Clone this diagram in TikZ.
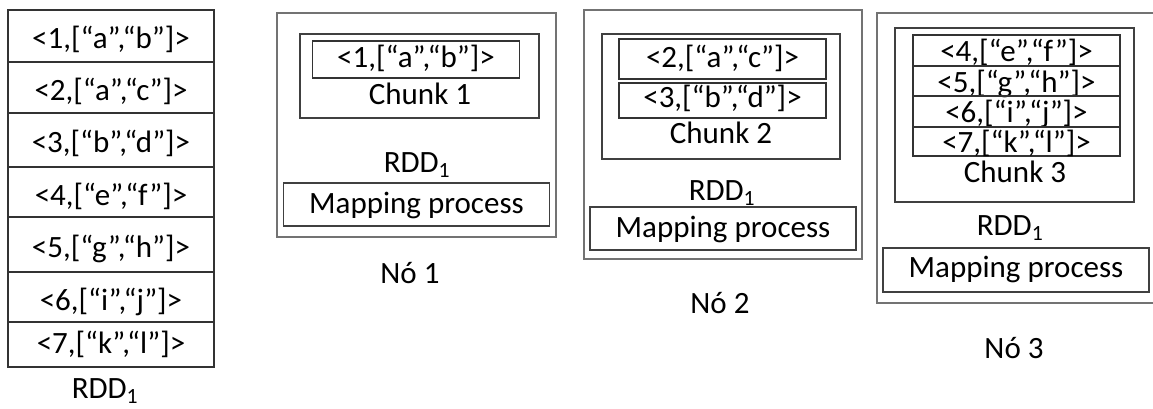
\documentclass[tikz,border=0pt]{standalone}
\usepackage{fontspec}
\setmainfont{Carlito}
\begin{document}
\begin{tikzpicture}[x=1pt,y=-1pt,
  every node/.style={font=\fontsize{31}{37}\selectfont, inner sep=0pt},
  outerbox/.style={draw=black!55, line width=1.3pt, minimum width=#1},
  chunkbox/.style={draw=black!75, line width=1.3pt, minimum width=#1},
  tablerow/.style={draw=black!80, line width=1.3pt, minimum width=206pt, minimum height=#1,
                   text height=26pt, text depth=0pt},
  entry/.style={draw=black!80, line width=1.3pt, minimum width=207pt, minimum height=#1,
                text height=17pt, text depth=0pt},
  smallentry/.style={draw=black!80, line width=1.3pt, minimum width=207pt, minimum height=#1,
                text height=23pt, text depth=0pt},
  mapbox/.style={draw=black!75, line width=1.3pt, minimum width=266pt, minimum height=43pt,
                 text height=17pt, text depth=0pt},
  caption/.style={anchor=base}]
\clip (0,0) rectangle (1153,409);

% input RDD as a column of records
\node[tablerow=52pt] (r1) at (111,36)    {<1,[“a”,“b”]>};
\node[tablerow=51pt] (r2) at (111,87.5)  {<2,[“a”,“c”]>};
\node[tablerow=54pt] (r3) at (111,140)   {<3,[“b”,“d”]>};
\node[tablerow=50pt] (r4) at (111,192)   {<4,[“e”,“f”]>};
\node[tablerow=55pt] (r5) at (111,244.5) {<5,[“g”,“h”]>};
\node[tablerow=50pt] (r6) at (111,297)   {<6,[“i”,“j”]>};
\node[tablerow=45pt, text height=18pt] (r7) at (111,344.5) {<7,[“k”,“l”]>};
\node[caption] (rddin) at (105,398) {RDD\textsubscript{1}};

% node 1
\node[outerbox=279pt, minimum height=224pt] (n1) at (416.5,125) {};
\node[chunkbox=239pt, minimum height=84pt] (c1) at (419.5,76) {};
\node[entry=37pt] (e1) at (416,59.5) {<1,[“a”,“b”]>};
\node[caption] (c1lab) at (420,105) {Chunk 1};
\node[caption] (rdd1) at (417,172) {RDD\textsubscript{1}};
\node[mapbox] (m1) at (416.5,204.5) {Mapping process};
\node[caption] (no1) at (410,283) {Nó 1};

% node 2
\node[outerbox=278pt, minimum height=249pt] (n2) at (723,134.5) {};
\node[chunkbox=238pt, minimum height=125pt] (c2) at (721,96.5) {};
\node[entry=40pt] (e2) at (722.5,59) {<2,[“a”,“c”]>};
\node[entry=35pt, text height=15pt] (e3) at (722.5,100.5) {<3,[“b”,“d”]>};
\node[caption] (c2lab) at (721,143) {Chunk 2};
\node[caption] (rdd2) at (722,200) {RDD\textsubscript{1}};
\node[mapbox] (m2) at (723,228.5) {Mapping process};
\node[caption] (no2) at (720,313) {Nó 2};

% node 3 (its frame runs past the right edge)
\node[outerbox=293pt, minimum height=290pt] (n3) at (1023.5,158) {};
\node[chunkbox=239pt, minimum height=174pt] (c3) at (1014.5,115) {};
\node[smallentry=31pt] (e4) at (1016.5,50.5)  {<4,[“e”,“f”]>};
\node[smallentry=30pt] (e5) at (1016.5,81)    {<5,[“g”,“h”]>};
\node[smallentry=31pt] (e6) at (1016.5,111.5) {<6,[“i”,“j”]>};
\node[smallentry=29pt] (e7) at (1016.5,141.5) {<7,[“k”,“l”]>};
\node[caption] (c3lab) at (1015,182) {Chunk 3};
\node[caption] (rdd3) at (1010,235) {RDD\textsubscript{1}};
\node[mapbox, minimum height=44pt, text height=14pt] (m3) at (1016,270) {Mapping process};
\node[caption] (no3) at (1014,358) {Nó 3};
\end{tikzpicture}
\end{document}
